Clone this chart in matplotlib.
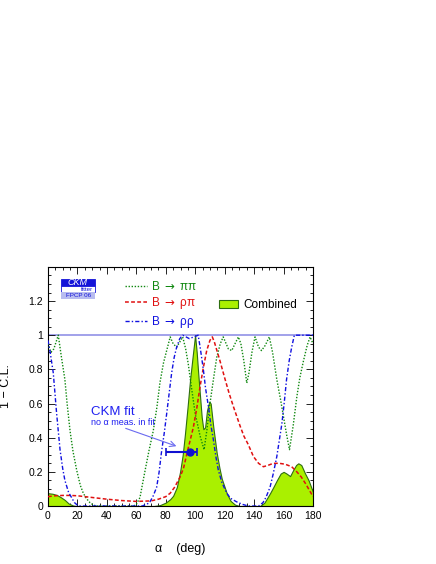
import numpy as np
import matplotlib
matplotlib.use('Agg')
import matplotlib.pyplot as plt
from matplotlib.patches import Rectangle, Patch
from matplotlib.lines import Line2D
from matplotlib.ticker import MultipleLocator, FuncFormatter

plt.rcParams['font.family'] = ['Liberation Sans', 'DejaVu Sans']

# B -> pi pi
pipi_alpha = [0, 2, 4, 7, 9, 11.5, 13, 15, 17, 19.5, 22, 24, 26, 28.5, 31, 33,
              58, 60, 62.5, 64, 66, 68.5, 71.5, 74, 76, 78.5, 80.6, 83, 85, 87.4,
              89.5, 91.5, 93.5, 95.3, 97.5, 100, 103.3, 106, 108, 110, 112.5, 114.6,
              117, 119, 121, 122.5, 124.8, 127, 129.3, 131, 133, 135, 136.5, 138.5,
              140.6, 143, 145, 147.5, 150.3, 152.5, 155.4, 158, 160, 162, 164, 166.5,
              169, 171, 173.5, 176, 178, 180]
pipi_cl = [0.95, 0.90, 0.92, 1.0, 0.88, 0.74, 0.60, 0.44, 0.32, 0.21, 0.12, 0.075,
           0.045, 0.02, 0.005, 0.0,
           0.0, 0.01, 0.05, 0.12, 0.21, 0.32, 0.44, 0.58, 0.72, 0.84, 0.91, 0.99, 0.95,
           0.93, 0.96, 0.99, 0.92, 0.83, 0.69, 0.54, 0.41, 0.33, 0.45, 0.60, 0.75, 0.87,
           0.95, 0.99, 0.95, 0.92, 0.91, 0.95, 0.99, 0.95, 0.85, 0.72, 0.78, 0.90,
           0.99, 0.93, 0.91, 0.94, 0.99, 0.90, 0.74, 0.62, 0.52, 0.42, 0.33, 0.47,
           0.64, 0.75, 0.85, 0.94, 0.99, 0.95]

# B -> rho pi
rhopi_alpha = [0, 5, 10, 15, 20, 30, 40, 50, 60, 70, 75, 80, 83, 86, 89.7, 92, 95,
               98.7, 101, 103.3, 105.5, 107.8, 110, 111.6, 113, 116.8, 120, 123, 126,
               130.4, 133, 136, 139.5, 143, 146.3, 150, 153, 157, 161, 165.5, 169, 172,
               175, 178, 180]
rhopi_cl = [0.055, 0.06, 0.062, 0.062, 0.06, 0.05, 0.04, 0.032, 0.027, 0.03, 0.04,
            0.055, 0.075, 0.11, 0.17, 0.22, 0.33, 0.46, 0.57, 0.70, 0.81, 0.91, 0.97,
            0.99, 0.96, 0.85, 0.75, 0.66, 0.58, 0.47, 0.41, 0.36, 0.29, 0.25, 0.23,
            0.24, 0.25, 0.25, 0.245, 0.23, 0.20, 0.17, 0.13, 0.085, 0.055]

# B -> rho rho
rhorho_alpha = [0, 1.5, 3.6, 5.9, 8.2, 10, 11.5, 14, 16, 18, 20, 22, 64, 67, 69, 71.5,
                73.8, 75.5, 77, 79, 80.6, 82.3, 84, 85.7, 87.4, 89.5, 91.5, 96, 102,
                103.5, 105.5, 107, 109, 110.5, 112.3, 114, 115.7, 118, 121.4, 124, 128,
                132, 136, 143, 146, 148, 150.8, 153, 155.4, 157, 158.8, 160.5, 162,
                163.8, 165.5, 167.3, 180]
rhorho_cl = [0.97, 0.90, 0.78, 0.54, 0.33, 0.22, 0.15, 0.08, 0.05, 0.02, 0.005, 0.0,
             0.0, 0.01, 0.02, 0.06, 0.11, 0.20, 0.31, 0.43, 0.54, 0.66, 0.78, 0.87,
             0.93, 0.98, 1.0, 0.98, 1.0, 0.92, 0.80, 0.69, 0.58, 0.48, 0.39, 0.29,
             0.21, 0.14, 0.075, 0.045, 0.025, 0.01, 0.0, 0.0, 0.02, 0.05, 0.11, 0.19,
             0.29, 0.38, 0.48, 0.61, 0.74, 0.85, 0.93, 1.0, 1.0]

# combined
comb_alpha = [0, 3, 6, 9, 11.5, 14, 17, 19, 72, 76, 80, 83, 85, 87.5, 89.7, 91.5, 93,
              94.8, 96.5, 98.3, 99.9, 101, 102, 103.2, 104.4, 105.5, 106.7, 108, 109.5,
              110.5, 112.3, 114.6, 116.5, 118, 121.4, 124, 127, 130, 144, 147, 150.8,
              153, 155.4, 158, 160, 162, 164.4, 166.5, 168.5, 170, 172, 174.6, 177, 180]
comb_cl = [0.075, 0.072, 0.065, 0.05, 0.035, 0.015, 0.003, 0.0, 0.0, 0.005, 0.02,
           0.04, 0.06, 0.11, 0.20, 0.30, 0.42, 0.58, 0.74, 0.88, 1.0, 0.90, 0.78,
           0.65, 0.52, 0.45, 0.46, 0.56, 0.61, 0.60, 0.46, 0.31, 0.22, 0.16, 0.075,
           0.03, 0.008, 0.0, 0.0, 0.02, 0.075, 0.11, 0.15, 0.19, 0.20, 0.19, 0.175,
           0.21, 0.24, 0.25, 0.24, 0.19, 0.15, 0.08]

# CKM fit (no alpha measurement)
fit_alpha = 96.5
fit_low = 80.2
fit_high = 101.4
fit_y = 0.314

legend_labels = [r'B $\rightarrow$ ππ', r'B $\rightarrow$ ρπ', r'B $\rightarrow$ ρρ']

green = '#108810'
red = '#e01010'
blue = '#1010e0'
ls_pipi = (0, (1, 1.2))
ls_rhopi = (0, (2.5, 1.5))
ls_rhorho = (0, (3, 1.5, 1, 1.5))

fig = plt.figure(figsize=(4.36, 5.64), dpi=100)
ax = fig.add_axes([0.110, 0.1028, 0.608, 0.424])

ax.fill_between(comb_alpha, 0, comb_cl, facecolor='#aaf000', edgecolor='#2e6e10',
                linewidth=0.8, zorder=2)
ax.axhline(1.0, color='#9a9ae8', linewidth=1.3, zorder=1)
ax.plot(pipi_alpha, pipi_cl, color=green, linestyle=ls_pipi, linewidth=1.0, zorder=3)
ax.plot(rhopi_alpha, rhopi_cl, color=red, linestyle=ls_rhopi, linewidth=1.1, zorder=3)
ax.plot(rhorho_alpha, rhorho_cl, color=blue, linestyle=ls_rhorho, linewidth=1.0, zorder=3)

ax.errorbar([fit_alpha], [fit_y], xerr=[[fit_alpha - fit_low], [fit_high - fit_alpha]],
            fmt='o', color='#1010d0', markersize=5, elinewidth=1.5, capsize=3,
            capthick=1.2, zorder=5)
ax.annotate('', xy=(89, 0.345), xytext=(51, 0.46),
            arrowprops=dict(arrowstyle='->', color='#6a6af0', lw=0.8))
ax.text(29.5, 0.548, 'CKM fit', color='#2020f0', fontsize=9.5, va='center')
ax.text(29.5, 0.488, 'no α meas. in fit', color='#2020f0', fontsize=6.5, va='center')

ax.set_xlim(0, 180)
ax.set_ylim(0, 1.4)
ax.set_xticks(np.arange(0, 181, 20))
ax.set_yticks([0, 0.2, 0.4, 0.6, 0.8, 1.0, 1.2])
ax.xaxis.set_minor_locator(MultipleLocator(5))
ax.yaxis.set_minor_locator(MultipleLocator(0.05))
ax.yaxis.set_major_formatter(FuncFormatter(lambda v, p: '%g' % round(v, 2)))
ax.tick_params(which='both', direction='in', top=True, right=True, labelsize=7.5, width=0.6)
ax.tick_params(which='major', length=5)
ax.tick_params(which='minor', length=2.5)
for s in ax.spines.values():
    s.set_linewidth(0.8)

ax.set_xlabel('α    (deg)', fontsize=9, labelpad=16)
ax.set_ylabel('1 − C.L.', fontsize=9, labelpad=12)

# legends
handles = [Line2D([], [], color=green, linestyle=ls_pipi, linewidth=1.0),
           Line2D([], [], color=red, linestyle=ls_rhopi, linewidth=1.1),
           Line2D([], [], color=blue, linestyle=ls_rhorho, linewidth=1.0)]
leg1 = ax.legend(handles, legend_labels, loc='upper left',
                 bbox_to_anchor=(0.25, 0.99), frameon=False, fontsize=8.5,
                 handlelength=1.9, handletextpad=0.35, labelspacing=0.22,
                 labelcolor=[green, red, blue])
ax.add_artist(leg1)
ax.legend([Patch(facecolor='#aaf000', edgecolor='#2e6e10', linewidth=0.8)], ['Combined'],
          loc='center left', bbox_to_anchor=(0.605, 0.84), frameon=False, fontsize=8.5,
          handlelength=1.6, handleheight=0.7, handletextpad=0.5)

# CKMfitter logo
ax.add_patch(Rectangle((0.051, 0.921), 0.127, 0.027, transform=ax.transAxes,
                       facecolor='#1414d8', edgecolor='#1414d8', linewidth=0.6))
ax.text(0.112, 0.934, 'CKM', transform=ax.transAxes, color='white', fontsize=6.5,
        style='italic', ha='center', va='center')
ax.add_patch(Rectangle((0.051, 0.896), 0.127, 0.025, transform=ax.transAxes,
                       facecolor='white', edgecolor='#1414d8', linewidth=0.6))
ax.text(0.172, 0.906, 'fitter', transform=ax.transAxes, color='#1414d8', fontsize=4.5,
        ha='right', va='center')
ax.add_patch(Rectangle((0.051, 0.866), 0.127, 0.028, transform=ax.transAxes,
                       facecolor='#b8bcf0', edgecolor='none'))
ax.text(0.114, 0.880, 'FPCP 06', transform=ax.transAxes, color='#1414d8', fontsize=4.5,
        ha='center', va='center')

fig.savefig('out.png', dpi=100)
